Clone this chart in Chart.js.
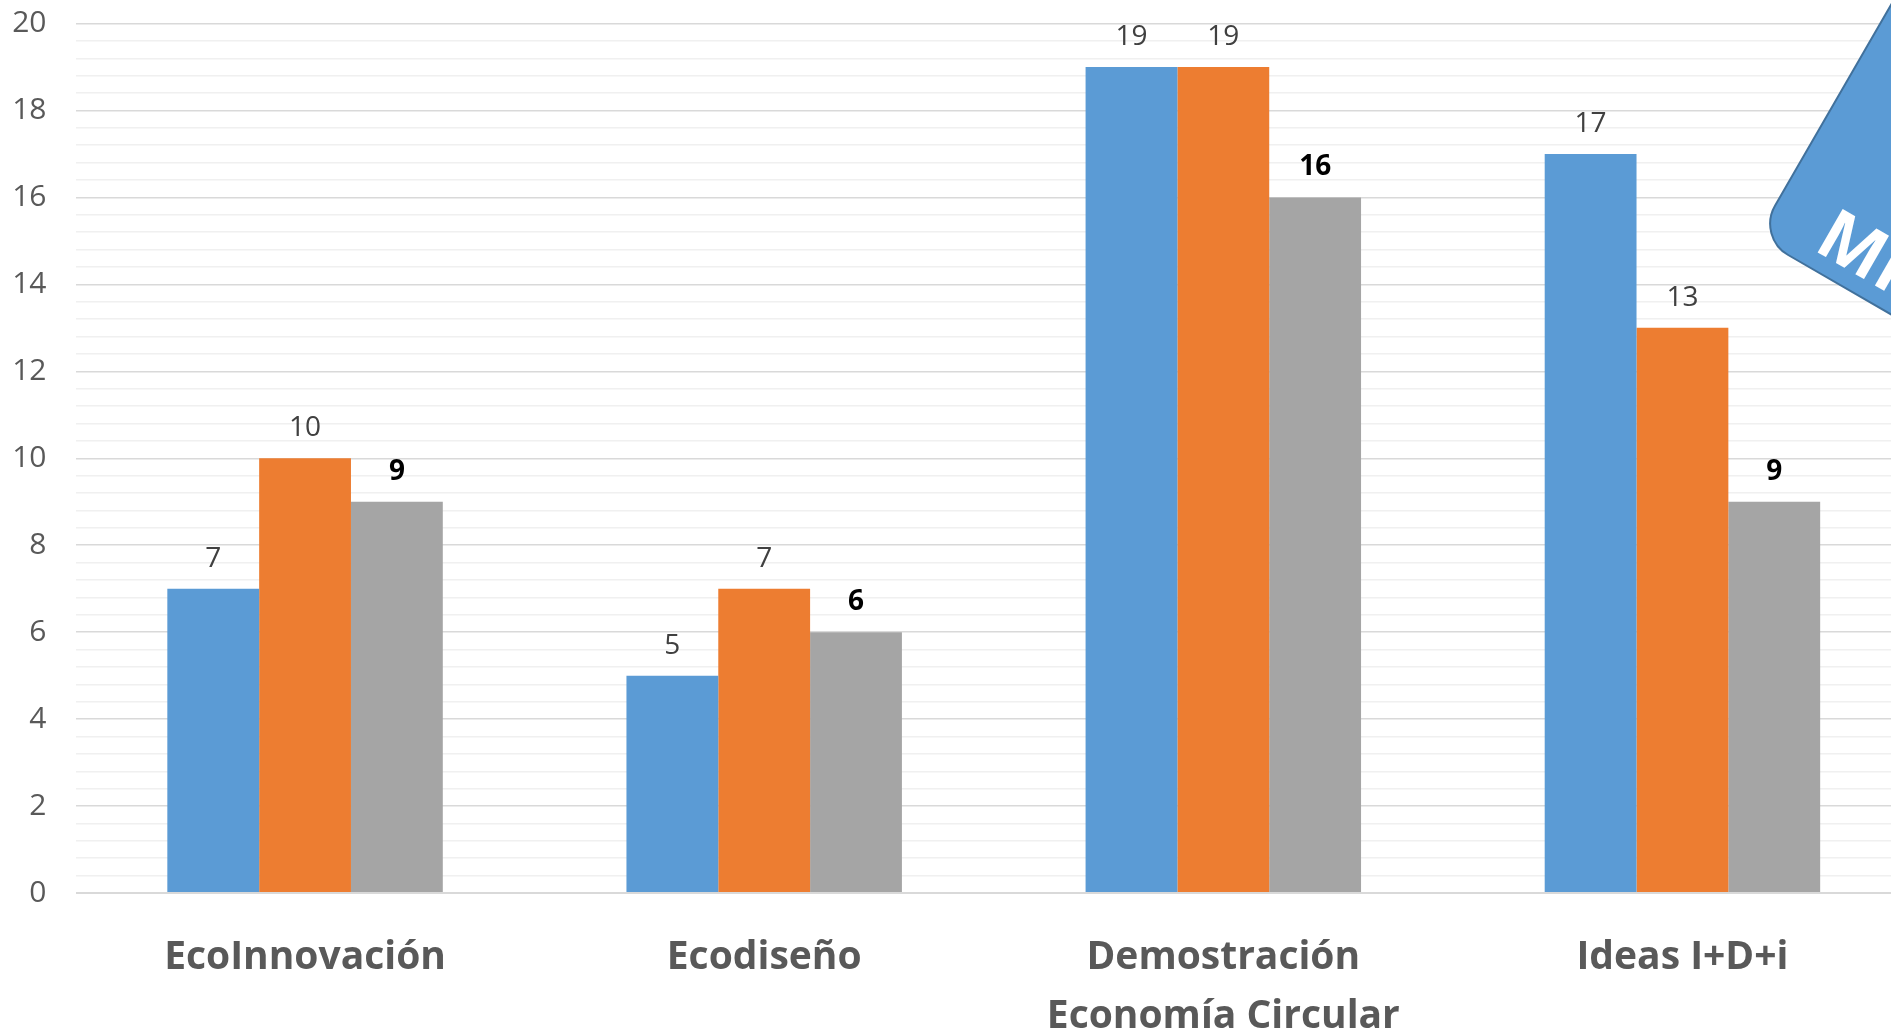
<!DOCTYPE html>
<html>
<head>
<meta charset="utf-8">
<script src="https://cdn.jsdelivr.net/npm/chart.js@4/dist/chart.umd.min.js"></script>
<style>
html,body{margin:0;padding:0;background:#fff;overflow:hidden;width:1891px;height:1033px;}
#wrap{position:absolute;left:0;top:0;width:1912px;height:1033px;}
</style>
</head>
<body>
<div id="wrap"><canvas id="c" width="1912" height="1033"></canvas></div>
<script>
const categories = [['EcoInnovación'], ['Ecodiseño'], ['Demostración', 'Economía Circular'], ['Ideas I+D+i']];
const seriesNames = ['Serie 1', 'Serie 2', 'Serie 3'];
const series1 = [7, 5, 19, 17];
const series2 = [10, 7, 19, 13];
const series3 = [9, 6, 16, 9];
const yMin = 0, yMax = 20, yMajorStep = 2, yMinorStep = 0.4;
const badgeText = 'MI';

const FONT = "'Open Sans', 'Liberation Sans', sans-serif";

const dataLabels = {
  id: 'dataLabels',
  afterDatasetsDraw(chart) {
    const ctx = chart.ctx;
    ctx.save();
    ctx.textAlign = 'center';
    ctx.textBaseline = 'middle';
    chart.data.datasets.forEach((ds, di) => {
      const meta = chart.getDatasetMeta(di);
      const bold = di === 2;
      ctx.font = (bold ? 'bold ' : '') + '28px ' + FONT;
      ctx.fillStyle = bold ? '#000000' : '#404040';
      meta.data.forEach((el, i) => {
        ctx.fillText(String(ds.data[i]), el.x, el.y - 30);
      });
    });
    ctx.restore();
  }
};

const badge = {
  id: 'badge',
  afterDraw(chart) {
    const ctx = chart.ctx;
    ctx.save();
    ctx.translate(1757, 237);
    ctx.rotate(Math.PI / 6);
    ctx.beginPath();
    ctx.roundRect(0, -320, 320, 320, 36);
    ctx.fillStyle = '#5B9BD5';
    ctx.fill();
    ctx.lineWidth = 2;
    ctx.strokeStyle = '#41719C';
    ctx.stroke();
    ctx.fillStyle = '#ffffff';
    ctx.font = 'bold 70px ' + FONT;
    ctx.textAlign = 'left';
    ctx.textBaseline = 'alphabetic';
    ctx.fillText(badgeText, 54, -17);
    ctx.restore();
  }
};

function isMajor(v) {
  const r = v / yMajorStep;
  return Math.abs(r - Math.round(r)) < 1e-6;
}

new Chart(document.getElementById('c'), {
  type: 'bar',
  data: {
    labels: categories,
    datasets: [
      { label: seriesNames[0], data: series1, backgroundColor: '#5B9BD5' },
      { label: seriesNames[1], data: series2, backgroundColor: '#ED7D31' },
      { label: seriesNames[2], data: series3, backgroundColor: '#A5A5A5' }
    ]
  },
  options: {
    responsive: false,
    animation: false,
    layout: { padding: { top: 23.5, left: 0, right: 0, bottom: 0 } },
    plugins: { legend: { display: false }, tooltip: { enabled: false } },
    datasets: { bar: { categoryPercentage: 0.6, barPercentage: 1, borderWidth: 0 } },
    scales: {
      x: {
        grid: { display: false, drawTicks: false },
        border: { display: false },
        ticks: {
          color: '#595959',
          font: { family: FONT, size: 39, weight: 'bold', lineHeight: 1.5 },
          padding: 36,
          autoSkip: false,
          maxRotation: 0
        },
        afterFit(s) { s.height = 140; s.paddingLeft = 0; s.paddingRight = 0; }
      },
      y: {
        min: yMin, max: yMax,
        grid: {
          drawTicks: false,
          color: c => (c.tick && isMajor(c.tick.value)) ? '#d9d9d9' : '#f0f0f0',
          lineWidth: c => (c.tick && c.tick.value === 0) ? 2 : 1.5
        },
        border: { display: false },
        ticks: {
          stepSize: yMinorStep,
          maxTicksLimit: 200,
          autoSkip: false,
          padding: 29,
          color: '#595959',
          font: { family: FONT, size: 30 },
          callback: v => isMajor(v) ? String(Math.round(v)) : ''
        },
        afterFit(s) { s.width = 75.5; s.paddingTop = 0; s.paddingBottom = 0; }
      }
    }
  },
  plugins: [dataLabels, badge]
});
</script>
</body>
</html>
